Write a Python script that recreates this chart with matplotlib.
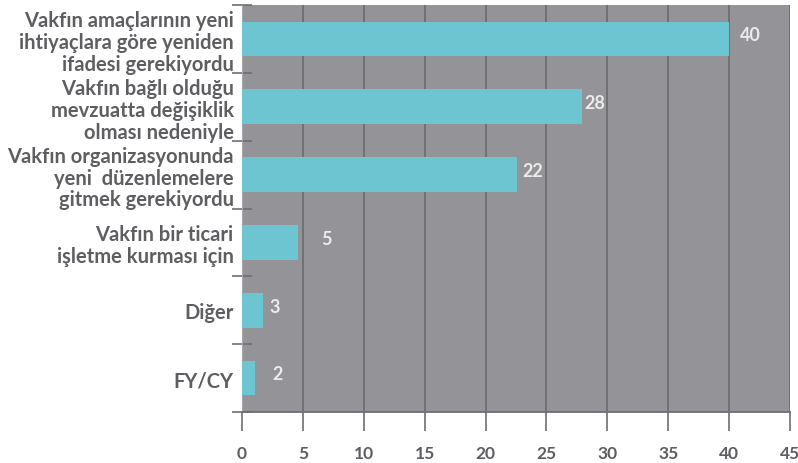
import matplotlib.pyplot as plt

# categories (top to bottom) and values
categories = ["Vakfın amaçlarının yeni\nihtiyaçlara göre yeniden\nifadesi gerekiyordu",
              "Vakfın bağlı olduğu\nmevzuatta değişiklik\nolması nedeniyle",
              "Vakfın organizasyonunda\nyeni  düzenlemelere\ngitmek gerekiyordu",
              "Vakfın bir ticari\nişletme kurması için",
              "Diğer",
              "FY/CY"]
bar_values = [40, 27.9, 22.6, 4.6, 1.7, 1.1]
value_labels = ["40", "28", "22", "5", "3", "2"]
xticks = [0, 5, 10, 15, 20, 25, 30, 35, 40, 45]

# label offsets from bar end (points)
label_offsets = [8, 2, 4, 17, 5, 12]

plt.rcParams['font.family'] = ['Lato', 'DejaVu Sans']
text_col = '#5e5e62'

fig = plt.figure(figsize=(7.98, 4.64), dpi=100)
ax = fig.add_axes([242/798, 51/464, 548/798, 407/464])
ax.set_facecolor('#939398')

ypos = list(range(len(categories)))
ax.barh(ypos, bar_values, height=0.51, color='#6cc5d0', zorder=3)

for y, v, lab, off in zip(ypos, bar_values, value_labels, label_offsets):
    ax.annotate(lab, (v, y), xytext=(off, 3), textcoords='offset points',
                va='center', ha='left', color='#ececec', fontsize=13,
                fontweight='bold', zorder=4)

ax.set_xlim(0, 45)
ax.set_ylim(len(categories) - 0.5, -0.5)
ax.set_xticks(xticks)
ax.set_xticklabels([str(t) for t in xticks], fontsize=12.5, fontweight='bold', color=text_col)
ax.set_yticks(ypos)
ax.set_yticklabels(categories, fontsize=14.5, fontweight='bold', color=text_col,
                   linespacing=1.12)
ax.set_yticks([i - 0.5 for i in range(len(categories) + 1)], minor=True)

ax.tick_params(axis='y', which='major', length=0, pad=6)
ax.tick_params(axis='y', which='minor', direction='inout', length=14,
               width=1.2, color='#6e6e72')
ax.tick_params(axis='x', direction='out', length=14, width=1.2,
               color='#6e6e72', pad=10)

ax.grid(axis='x', color='#6e6e72', linewidth=1.3, zorder=1)
ax.set_axisbelow(True)

for s in ['top', 'right']:
    ax.spines[s].set_visible(False)
ax.spines['left'].set_color('#a8a8ac')
ax.spines['bottom'].set_color('#6e6e72')
ax.spines['bottom'].set_linewidth(1.3)

fig.savefig('out.png', dpi=100)
